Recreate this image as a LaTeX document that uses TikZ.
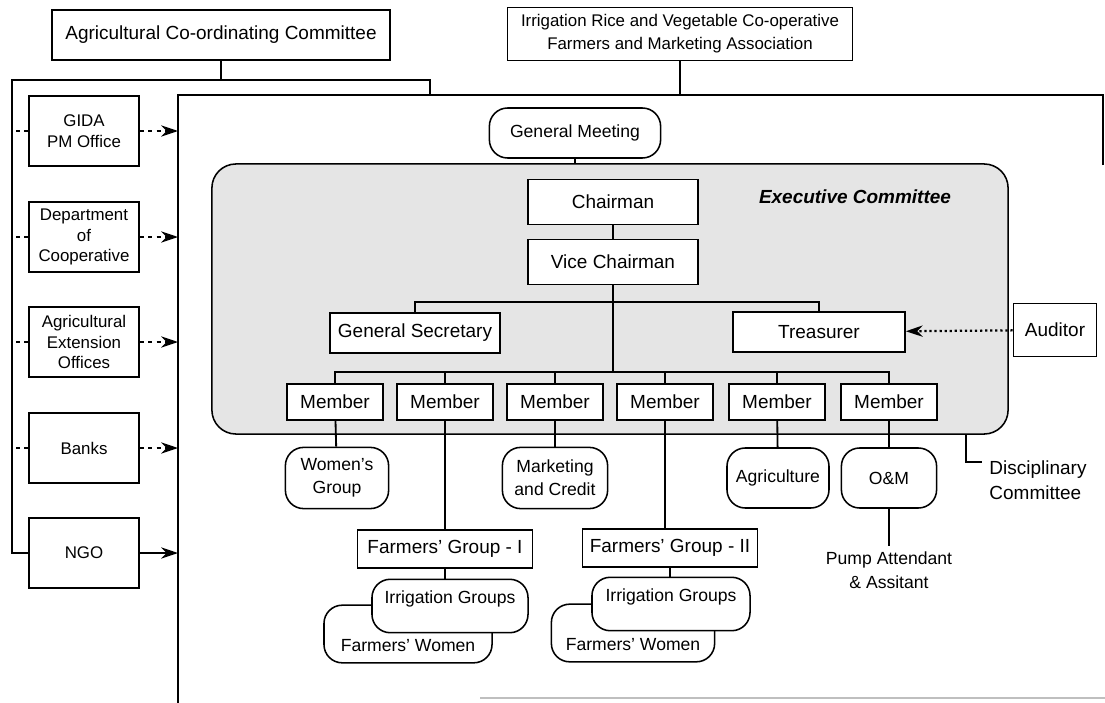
\documentclass[tikz,border=0pt]{standalone}
\usepackage{fontspec}
\setmainfont{Liberation Sans}
\usetikzlibrary{arrows.meta}

\begin{document}
\begin{tikzpicture}[x=0.025cm, y=-0.025cm, line width=1.1pt,
    every node/.style={font=\fontsize{13.5}{16.5}\selectfont},
    box/.style={draw, fill=white, inner sep=2pt, align=center},
    pill/.style={box, rounded corners=13pt, font=\fontsize{12.5}{16.5}\selectfont},
    sidebox/.style={box, minimum width=2.75cm, minimum height=1.75cm, font=\fontsize{12}{14.5}\selectfont},
    mbox/.style={box, minimum width=2.4cm, minimum height=0.9cm},
    link/.style={line width=1.3pt},
    arr/.style={-{Stealth[length=12pt,width=8pt]}}]
    \useasboundingbox (0,0) rectangle (1105,703);

    % frame of the association
    \coordinate (fTL) at (178,95);
    \coordinate (fTR) at (1103,95);
    \coordinate (fRE) at (1103,165);
    \coordinate (fBL) at (178,703);
    \draw[line width=1.4pt] (fRE) -- (fTR) -- (fTL) -- (fBL);
    \draw[gray!50, line width=0.8pt] (480,698) -- (1105,698);

    % top boxes
    \node[box, minimum width=8.45cm, minimum height=1.25cm] (acc) at (221,35) {Agricultural Co-ordinating Committee};
    \node[box, minimum width=8.63cm, minimum height=1.33cm, font=\fontsize{12}{16.5}\selectfont] (irv) at (680,34)
        {Irrigation Rice and Vegetable Co-operative\\Farmers and Marketing Association};
    \draw[link] (irv.south) -- (irv.south |- fTL);

    % supporting bodies on the left
    \coordinate (lTop) at (12,80);
    \coordinate (rTop) at (430,80);
    \coordinate (rEnd) at (430,95);
    \node[sidebox] (gida) at (84,131) {GIDA\\PM Office};
    \node[sidebox] (dep) at (84,237) {Department\\of\\Cooperative};
    \node[sidebox] (aeo) at (84,342) {Agricultural\\Extension\\Offices};
    \node[sidebox] (bank) at (84,448) {Banks};
    \node[sidebox] (ngo) at (84,553) {NGO};
    \draw[link] (acc.south) -- (acc.south |- lTop);
    \draw[link] (ngo.west) -| (lTop) -- (rTop) -- (rEnd);
    \foreach \b in {gida,dep,aeo,bank}{
        \draw[dashed] (\b.west) -- (\b.west -| lTop);
        \draw[dashed, arr] (\b.east) -- (\b.east -| fTL);
    }
    \draw[arr] (ngo.east) -- (ngo.east -| fTL);

    % general meeting and executive committee
    \node[pill, minimum width=4.28cm, minimum height=1.25cm, font=\fontsize{12.5}{15}\selectfont] (gm) at (575,133) {General Meeting};
    \node[draw, fill=black!10, rounded corners=0.6cm, minimum width=19.9cm, minimum height=6.75cm] (ec) at (610,299) {};
    \draw[link] (gm.south) -- (gm.south |- ec.north);
    \node[font=\fontsize{13.5}{16}\selectfont\bfseries\itshape] (ectxt) at (855,197) {Executive Committee};

    \node[box, minimum width=4.25cm, minimum height=1.13cm] (ch) at (613,202) {Chairman};
    \node[box, minimum width=4.25cm, minimum height=1.13cm] (vc) at (613,262) {Vice Chairman};
    \node[box, inner xsep=1pt, minimum width=4.25cm, minimum height=1cm] (gs) at (415,333) {General Secretary};
    \node[box, minimum width=4.3cm, minimum height=1cm] (tr) at (819,332) {Treasurer};
    \node[box, minimum width=2.08cm, minimum height=1.33cm] (aud) at (1055,330) {Auditor};
    \draw[link] (ch) -- (vc);
    \draw[dotted, line width=1.6pt, arr] (aud) -- (tr);

    \coordinate (upBus) at (613,302);
    \coordinate (mBus) at (613,372);
    \draw[link] (vc.south) -- (mBus);
    \draw[link] (gs.north) |- (upBus) -| (tr.north);
    \foreach \i/\x in {1/335,2/445,3/555,4/665,5/777,6/889}{
        \node[mbox] (m\i) at (\x,402) {Member};
        \draw[link] (m\i.north) |- (mBus);
    }

    % groups under the members
    \node[pill, minimum width=2.58cm, minimum height=1.53cm] (wg) at (337,478) {Women's\\Group};
    \node[pill, minimum width=2.63cm, minimum height=1.53cm] (mc) at (555,478) {Marketing\\and Credit};
    \node[pill, minimum width=2.55cm, minimum height=1.5cm] (ag) at (778,478) {Agriculture};
    \node[pill, minimum width=2.38cm, minimum height=1.5cm] (om) at (889,478) {O\&M};
    \draw[link] (m1) -- (wg);
    \draw[link] (m3) -- (mc);
    \draw[link] (m5) -- (ag);
    \draw[link] (m6) -- (om);

    \node[box, minimum width=4.38cm, minimum height=0.95cm] (fg1) at (445,549) {Farmers' Group - I};
    \node[box, minimum width=4.38cm, minimum height=0.95cm] (fg2) at (670,548) {Farmers' Group - II};
    \draw[link] (m2.south) -- (m2.south |- fg1.north);
    \draw[link] (m4.south) -- (m4.south |- fg2.north);

    \node[pill, minimum width=4.2cm, text height=30pt, text depth=5pt, inner ysep=3pt] (fw1) at (408,634) {Farmers' Women};
    \node[pill, minimum width=3.9cm, text height=14pt, text depth=18pt, inner ysep=3pt] (ig1) at (450,606) {Irrigation Groups};
    \node[pill, minimum width=4.08cm, text height=30pt, text depth=5pt, inner ysep=3pt] (fw2) at (633,633) {Farmers' Women};
    \node[pill, minimum width=3.95cm, text height=14pt, text depth=18pt, inner ysep=3pt] (ig2) at (671,604) {Irrigation Groups};
    \draw[link] (fg1.south) -- (fg1.south |- ig1.north);
    \draw[link] (fg2.south) -- (fg2.south |- ig2.north);

    \node[font=\fontsize{12.5}{17}\selectfont, align=center] (pump) at (889,570) {Pump Attendant\\\& Assitant};
    \draw[link] (om.south) -- (pump.north);

    \coordinate (dTop) at (966,434);
    \coordinate (dEnd) at (982,462);
    \node[anchor=west, align=left, font=\fontsize{13.5}{17.5}\selectfont] (dc) at (984,480) {Disciplinary\\Committee};
    \draw (dTop) |- (dEnd);
\end{tikzpicture}
\end{document}
